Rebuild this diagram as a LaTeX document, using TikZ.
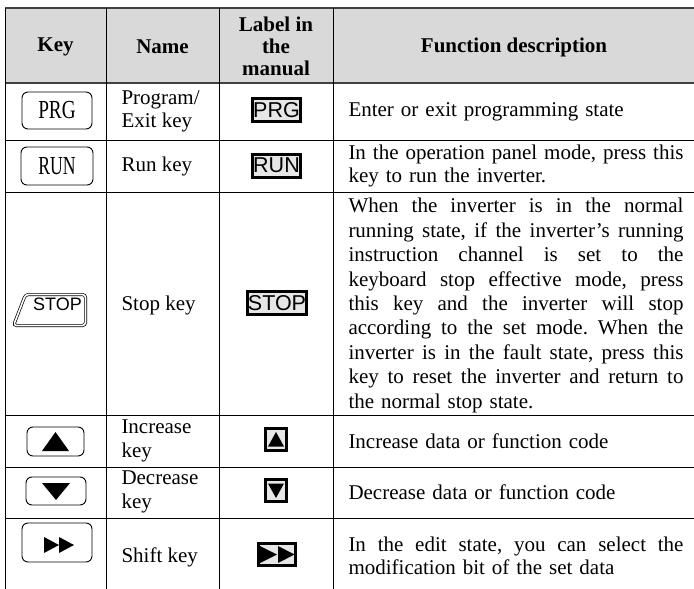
\documentclass[tikz,border=0pt]{standalone}
\usepackage{graphicx}
\usepackage{fontspec}
\setmainfont{Liberation Serif}
\newfontfamily\labelfont{Liberation Sans}
\usetikzlibrary{calc}

\definecolor{headgray}{HTML}{D9D9D9}
\definecolor{taggray}{HTML}{E6E6E6}
\definecolor{rulegray}{HTML}{404040}

\frenchspacing
% one justified line of the description column
\newcommand{\jline}[1]{\leavevmode\hbox to 335pt{\spaceskip=0.25em plus 1fil minus 0.1em\xspaceskip=\spaceskip #1}\\}

\begin{document}
\begin{tikzpicture}[x=1pt, y=-1pt, line width=1pt,
  every node/.style={font=\fontsize{21}{23.3}\selectfont},
  headcell/.style={font=\fontsize{21}{21.7}\selectfont\bfseries, align=center},
  namecell/.style={anchor=west, inner sep=0pt, align=left,
    font=\fontsize{21}{23.3}\selectfont},
  desccell/.style={anchor=west, inner sep=0pt, text width=335pt, align=left},
  keycap/.style={draw, rounded corners=6pt, line width=0.9pt, inner sep=0pt,
    font=\fontsize{26}{26}\selectfont},
  tag/.style={draw, line width=3pt, fill=taggray, inner xsep=0.5pt, inner ysep=0pt,
    minimum height=23pt, font=\labelfont\fontsize{21.5}{21.5}\selectfont},
  arrowtag/.style={draw, line width=3pt, fill=taggray, inner sep=0pt,
    minimum width=21pt, minimum height=22pt}]
  \useasboundingbox (0,0) rectangle (694,589);

  % header band and rules
  \fill[headgray] (5,8) rectangle (694,83);
  \draw[rulegray, line width=2pt] (5,8) -- (694,8) (5,83) -- (694,83);
  \draw (5,140) -- (694,140) (5,192) -- (694,192) (5,415) -- (694,415)
        (5,467) -- (694,467) (5,518) -- (694,518);
  \draw (5,8) -- (5,589) (106,8) -- (106,589) (219,8) -- (219,589)
        (333,8) -- (333,589);

  % header
  \node[headcell] (hkey) at (55.5,47) {Key};
  \node[headcell] (hname) at (162.5,47) {Name};
  \node[headcell] (hlabel) at (276,46.5) {Label in\\the\\manual};
  \node[headcell] (hfunc) at (514,47) {Function description};

  % keys on the panel
  \node[keycap, minimum width=70pt, minimum height=37pt] (kprg) at (57,110.5)
    {\scalebox{0.74}[1]{PRG}};
  \node[keycap, minimum width=72pt, minimum height=38pt] (krun) at (57,166)
    {\scalebox{0.68}[1]{RUN}};
  \draw[double, double distance=1.6pt, line width=0.7pt, rounded corners=3pt]
    (25.5,294.5) -- (85.5,294.5) -- (85.5,325.5) -- (13.5,325.5) -- cycle;
  \node[font=\labelfont\fontsize{18}{18}\selectfont, inner sep=0pt] (kstop)
    at (57.5,304) {STOP};
  \node[keycap, minimum width=57pt, minimum height=29pt] (kup) at (55.5,441.5) {};
  \fill ($(kup)+(-13.5,9.5)$) -- ($(kup)+(13.5,9.5)$) -- ($(kup)+(0,-9.5)$) -- cycle;
  \node[keycap, minimum width=60pt, minimum height=28pt] (kdown) at (56,491) {};
  \fill ($(kdown)+(-14,-8)$) -- ($(kdown)+(14,-8)$) -- ($(kdown)+(0,9)$) -- cycle;
  \node[keycap, minimum width=70pt, minimum height=39pt] (kshift) at (57,542.5) {};
  \fill ($(kshift)+(-13,-5.5)$) -- ($(kshift)+(-13,10.5)$) -- ($(kshift)+(2,2.5)$) -- cycle;
  \fill ($(kshift)+(2,-5.5)$) -- ($(kshift)+(2,10.5)$) -- ($(kshift)+(17,2.5)$) -- cycle;

  % names
  \node[namecell] (nprg) at (121,111.5) {Program/\\Exit key};
  \node[namecell] (nrun) at (121,166) {Run key};
  \node[namecell] (nstop) at (121,305) {Stop key};
  \node[namecell] (nup) at (121,441) {Increase\\key};
  \node[namecell] (ndown) at (121,492) {Decrease\\key};
  \node[namecell] (nshift) at (121,557) {Shift key};

  % labels used in the manual
  \node[tag] (tprg) at (276.5,110) {PRG};
  \node[tag] (trun) at (276.5,165.5) {RUN};
  \node[tag] (tstop) at (277,303) {STOP};
  \node[arrowtag] (tup) at (276,439.5) {};
  \fill ($(tup)+(-8,7)$) -- ($(tup)+(8,7)$) -- ($(tup)+(0,-7.5)$) -- cycle;
  \node[arrowtag] (tdown) at (276,490.5) {};
  \fill ($(tdown)+(-8,-7)$) -- ($(tdown)+(8,-7)$) -- ($(tdown)+(0,7.5)$) -- cycle;
  \node[arrowtag, minimum width=37pt] (tshift) at (277,554.5) {};
  \fill ($(tshift)+(-17,-8.5)$) -- ($(tshift)+(-17,8.5)$) -- ($(tshift)+(0,0)$) -- cycle;
  \fill ($(tshift)+(1,-8.5)$) -- ($(tshift)+(1,8.5)$) -- ($(tshift)+(17.5,0)$) -- cycle;

  % function descriptions
  \node[desccell] (dprg) at (348,111.5) {Enter or exit programming state};
  \node[desccell] (drun) at (348,166)
    {\jline{In the operation panel mode, press this}key to run the inverter.};
  \node[desccell, font=\fontsize{21}{24.4}\selectfont] (dstop) at (348,305.5)
    {\jline{When the inverter is in the normal}%
     \jline{running state, if the inverter's running}%
     \jline{instruction channel is set to the}%
     \jline{keyboard stop effective mode, press}%
     \jline{this key and the inverter will stop}%
     \jline{according to the set mode. When the}%
     \jline{inverter is in the fault state, press this}%
     \jline{key to reset the inverter and return to}%
     the normal stop state.};
  \node[desccell] (dup) at (348,441) {Increase data or function code};
  \node[desccell] (ddown) at (348,492) {Decrease data or function code};
  \node[desccell] (dshift) at (348,556)
    {\jline{In the edit state, you can select the}modification bit of the set data};
\end{tikzpicture}
\end{document}
